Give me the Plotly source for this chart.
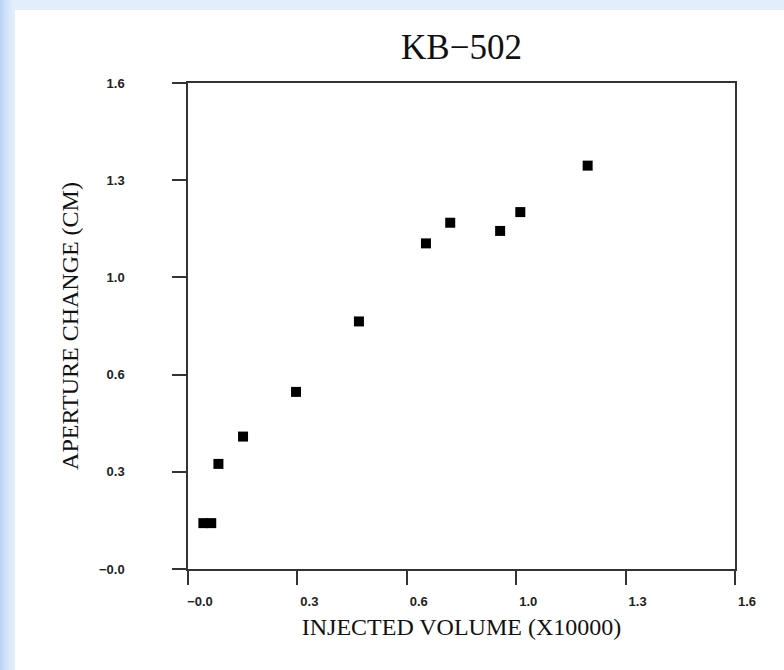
import plotly.graph_objects as go

# ---- data ----
chart_title = "KB\u2212502"
x_title = "INJECTED VOLUME (X10000)"
y_title = "APERTURE CHANGE (CM)"
injected_volume = [0.045, 0.068, 0.089, 0.161, 0.316, 0.500, 0.696, 0.767, 0.913, 0.972, 1.169]
aperture_change = [0.151, 0.151, 0.346, 0.436, 0.583, 0.815, 1.072, 1.140, 1.113, 1.175, 1.328]
tick_vals = [0, 0.32, 0.64, 0.96, 1.28, 1.6]
tick_text = ["\u22120.0", "0.3", "0.6", "1.0", "1.3", "1.6"]

W, H = 784, 670
L, R, T, B = 188, 49, 83, 101
PW, PH = W - L - R, H - T - B


def px_x(p):
    return (p - L) / PW


def px_y(p):
    return (H - B - p) / PH


fig = go.Figure()
fig.add_trace(go.Scatter(
    x=injected_volume, y=aperture_change, mode="markers",
    marker=dict(symbol="square", size=10, color="black", line=dict(width=0)),
    showlegend=False, hoverinfo="x+y",
))

# light-blue page border (left gradient strip and top strip)
shapes = []
left_cols = ["#b9d3f4", "#bdd6f5", "#c1d8f5", "#c5dbf6", "#c9ddf7", "#cde0f7",
             "#d1e2f8", "#d4e4f8", "#d7e6f9", "#dae8f9", "#dce9fa", "#deebfa",
             "#e0ecfb", "#e2edfb", "#e3eefb"]
shapes.append(dict(type="rect", xref="paper", yref="paper",
                   x0=px_x(0), x1=px_x(W), y0=px_y(0), y1=px_y(10),
                   fillcolor="#e3eefc", line=dict(width=0), layer="below"))
for i, c in enumerate(left_cols):
    shapes.append(dict(type="rect", xref="paper", yref="paper",
                       x0=px_x(i), x1=px_x(i + 1), y0=px_y(0), y1=px_y(H),
                       fillcolor=c, line=dict(width=0), layer="below"))

tick_font = dict(family="Liberation Sans", size=13, color="#222", weight="bold")
title_font = dict(family="Liberation Serif", size=24, color="#111")
axis_common = dict(
    range=[0, 1.6], tickmode="array", tickvals=tick_vals, ticktext=tick_text,
    ticks="outside", ticklen=14, tickwidth=1.5, tickcolor="#333",
    showline=True, linecolor="#333", linewidth=1.5, mirror=True,
    showgrid=False, zeroline=False, tickfont=tick_font, fixedrange=True,
)

fig.update_layout(
    width=W, height=H, autosize=False,
    margin=dict(l=L, r=R, t=T, b=B),
    paper_bgcolor="white", plot_bgcolor="white",
    title=dict(text=chart_title, x=0.5, xref="paper", xanchor="center",
               y=1 - 47 / H, yanchor="middle",
               font=dict(family="Liberation Serif", size=35, color="#111")),
    shapes=shapes,
)
fig.update_xaxes(**axis_common, ticklabelstandoff=6, ticklabelshift=12,
                 title=dict(text=x_title, font=title_font, standoff=10))
fig.update_yaxes(**axis_common, ticklabelstandoff=45,
                 title=dict(text=y_title, font=title_font, standoff=14))

fig.write_html("out.html")
